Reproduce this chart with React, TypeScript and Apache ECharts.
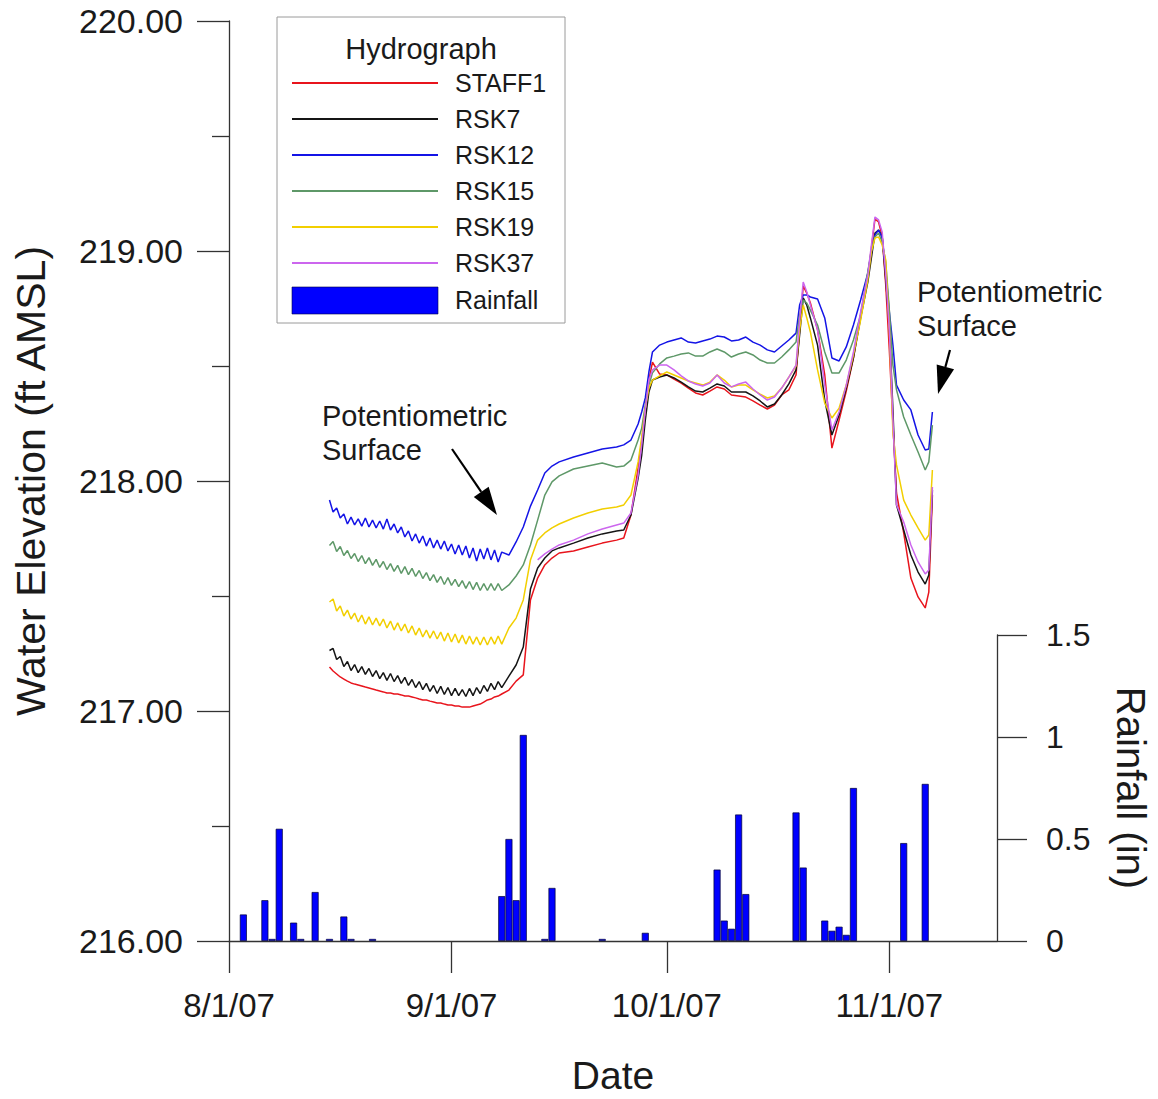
import React, { useEffect, useRef } from "react";
import * as echarts from "echarts";

// sample times, in days since 2007-08-01 (half-day samples while the daily cycle is visible)
const sampleDay = [
  14, 14.5, 15, 15.5, 16, 16.5, 17, 17.5, 18, 18.5, 19, 19.5, 20, 20.5, 21, 21.5, 22, 22.5, 23, 23.5,
  24, 24.5, 25, 25.5, 26, 26.5, 27, 27.5, 28, 28.5, 29, 29.5, 30, 30.5, 31, 31.5, 32, 32.5, 33, 33.5,
  34, 34.5, 35, 35.5, 36, 36.5, 37, 37.5, 38,
  39, 40, 41, 42, 43, 44, 45, 46, 48, 50, 52, 54, 55, 56, 57, 57.5, 58, 58.5, 59,
  60, 61, 62, 63, 64, 65, 66, 67, 68, 69, 70, 71, 72, 73, 74, 75, 76, 77, 78, 79,
  79.5, 80, 80.5, 81, 82, 83, 84, 85, 86, 87, 88, 89, 89.5, 90, 90.5, 91, 91.5, 92, 92.5, 93,
  94, 95, 96, 97, 97.5, 98,
];

const staff1 = [
  217.191, 217.174, 217.161, 217.148, 217.139, 217.130, 217.122, 217.117, 217.113, 217.109,
  217.104, 217.100, 217.096, 217.091, 217.087, 217.083, 217.078, 217.078, 217.074, 217.074,
  217.070, 217.065, 217.065, 217.061, 217.057, 217.052, 217.048, 217.048, 217.043, 217.039,
  217.035, 217.035, 217.030, 217.026, 217.026, 217.022, 217.022, 217.017, 217.017, 217.017,
  217.022, 217.026, 217.030, 217.039, 217.048, 217.052, 217.061, 217.065, 217.074,
  217.091, 217.130, 217.157, 217.483, 217.578, 217.635, 217.665, 217.687, 217.696, 217.713,
  217.730, 217.743, 217.752, 217.852, 218.057, 218.170, 218.309, 218.439, 218.517,
  218.465, 218.461, 218.443, 218.426, 218.404, 218.383, 218.374, 218.391, 218.409, 218.400,
  218.374, 218.370, 218.365, 218.348, 218.330, 218.313, 218.330, 218.374, 218.396, 218.461,
  218.657, 218.848, 218.817, 218.774, 218.657, 218.461, 218.143, 218.265, 218.391, 218.535,
  218.722, 218.887, 219.013, 219.139, 219.126, 219.065, 218.852, 218.570, 218.248, 217.948,
  217.774, 217.578, 217.496, 217.448, 217.517, 217.939,
];

const rsk7 = [
  217.263, 217.272, 217.224, 217.237, 217.193, 217.215, 217.176, 217.202, 217.167, 217.193,
  217.159, 217.185, 217.150, 217.176, 217.141, 217.167, 217.133, 217.163, 217.128, 217.154,
  217.120, 217.146, 217.111, 217.137, 217.102, 217.128, 217.093, 217.120, 217.085, 217.111,
  217.076, 217.107, 217.072, 217.102, 217.067, 217.098, 217.067, 217.093, 217.063, 217.098,
  217.067, 217.102, 217.076, 217.111, 217.085, 217.120, 217.093, 217.128, 217.102,
  217.152, 217.200, 217.278, 217.530, 217.622, 217.665, 217.696, 217.709, 217.730, 217.752,
  217.770, 217.783, 217.787, 217.852, 218.013, 218.113, 218.265, 218.387, 218.439,
  218.452, 218.461, 218.448, 218.430, 218.409, 218.391, 218.387, 218.404, 218.422, 218.413,
  218.387, 218.387, 218.387, 218.370, 218.348, 218.322, 218.335, 218.374, 218.422, 218.483,
  218.635, 218.796, 218.765, 218.709, 218.591, 218.352, 218.200, 218.287, 218.404, 218.535,
  218.709, 218.865, 218.970, 219.078, 219.091, 219.065, 218.874, 218.678, 218.309, 217.896,
  217.787, 217.678, 217.604, 217.552, 217.591, 217.961,
];

const rsk12 = [
  217.917, 217.865, 217.883, 217.839, 217.857, 217.813, 217.843, 217.809, 217.835, 217.804,
  217.839, 217.800, 217.830, 217.796, 217.826, 217.791, 217.835, 217.787, 217.813, 217.774,
  217.800, 217.757, 217.783, 217.739, 217.770, 217.730, 217.761, 217.717, 217.752, 217.709,
  217.743, 217.704, 217.739, 217.696, 217.726, 217.683, 217.722, 217.678, 217.717, 217.665,
  217.709, 217.652, 217.704, 217.661, 217.709, 217.657, 217.700, 217.648, 217.691,
  217.678, 217.735, 217.800, 217.891, 217.961, 218.035, 218.065, 218.083, 218.104, 218.122,
  218.139, 218.148, 218.157, 218.178, 218.248, 218.300, 218.361, 218.474, 218.561,
  218.591, 218.604, 218.613, 218.622, 218.604, 218.600, 218.609, 218.617, 218.630, 218.626,
  218.609, 218.613, 218.626, 218.604, 218.591, 218.570, 218.561, 218.587, 218.613, 218.643,
  218.765, 218.809, 218.809, 218.800, 218.791, 218.709, 218.535, 218.522, 218.583, 218.678,
  218.787, 218.904, 218.996, 219.070, 219.091, 219.057, 218.917, 218.735, 218.591, 218.417,
  218.352, 218.309, 218.200, 218.135, 218.139, 218.300,
];

const rsk15 = [
  217.720, 217.737, 217.693, 217.715, 217.676, 217.698, 217.663, 217.685, 217.650, 217.676,
  217.641, 217.667, 217.633, 217.659, 217.624, 217.650, 217.615, 217.641, 217.607, 217.633,
  217.598, 217.628, 217.593, 217.620, 217.585, 217.611, 217.576, 217.602, 217.567, 217.593,
  217.559, 217.585, 217.550, 217.580, 217.546, 217.572, 217.541, 217.567, 217.533, 217.563,
  217.528, 217.559, 217.524, 217.554, 217.524, 217.554, 217.524, 217.554, 217.524,
  217.548, 217.587, 217.635, 217.722, 217.830, 217.939, 217.996, 218.022, 218.052, 218.065,
  218.078, 218.061, 218.065, 218.091, 218.178, 218.230, 218.330, 218.417, 218.470,
  218.509, 218.535, 218.543, 218.552, 218.557, 218.543, 218.543, 218.561, 218.574, 218.561,
  218.539, 218.552, 218.561, 218.548, 218.526, 218.513, 218.513, 218.539, 218.570, 218.604,
  218.722, 218.787, 218.774, 218.743, 218.678, 218.561, 218.470, 218.470, 218.526, 218.613,
  218.722, 218.909, 219.004, 219.061, 219.078, 219.039, 218.952, 218.743, 218.504, 218.396,
  218.278, 218.200, 218.126, 218.048, 218.083, 218.243,
];

const rsk19 = [
  217.474, 217.487, 217.435, 217.457, 217.413, 217.439, 217.400, 217.426, 217.387, 217.417,
  217.378, 217.409, 217.374, 217.404, 217.370, 217.400, 217.361, 217.391, 217.352, 217.383,
  217.348, 217.378, 217.339, 217.370, 217.330, 217.361, 217.322, 217.352, 217.317, 217.348,
  217.313, 217.343, 217.304, 217.339, 217.300, 217.335, 217.296, 217.330, 217.291, 217.326,
  217.291, 217.322, 217.287, 217.322, 217.287, 217.322, 217.291, 217.326, 217.291,
  217.361, 217.404, 217.483, 217.657, 217.743, 217.774, 217.796, 217.813, 217.839, 217.861,
  217.878, 217.887, 217.896, 217.939, 218.083, 218.191, 218.317, 218.404, 218.439,
  218.457, 218.474, 218.461, 218.448, 218.435, 218.426, 218.417, 218.430, 218.461, 218.439,
  218.409, 218.417, 218.417, 218.396, 218.378, 218.361, 218.370, 218.404, 218.452, 218.500,
  218.657, 218.765, 218.709, 218.648, 218.483, 218.339, 218.274, 218.317, 218.417, 218.548,
  218.700, 218.874, 218.996, 219.057, 219.061, 219.026, 218.961, 218.657, 218.209, 218.070,
  217.917, 217.852, 217.796, 217.743, 217.765, 218.048,
];

const N = null;
const rsk37 = [
  N, N, N, N, N, N, N, N, N, N, N, N, N, N, N, N, N, N, N, N,
  N, N, N, N, N, N, N, N, N, N, N, N, N, N, N, N, N, N, N, N,
  N, N, N, N, N, N, N, N, N,
  N, N, N, N, 217.657, 217.683, 217.704, 217.722, 217.743, 217.770,
  217.791, 217.809, 217.817, 217.861, 218.026, 218.157, 218.309, 218.439, 218.483,
  218.504, 218.504, 218.483, 218.457, 218.435, 218.422, 218.413, 218.426, 218.461, 218.426,
  218.409, 218.422, 218.430, 218.400, 218.374, 218.352, 218.365, 218.404, 218.452, 218.504,
  218.700, 218.865, 218.822, 218.765, 218.657, 218.417, 218.222, 218.300, 218.417, 218.561,
  218.735, 218.896, 219.026, 219.148, 219.135, 219.083, 218.896, 218.657, 218.265, 217.896,
  217.822, 217.722, 217.648, 217.596, 217.613, 217.974,
];

const rainDate = [
  "2007-08-03", "2007-08-06", "2007-08-07", "2007-08-08", "2007-08-10", "2007-08-11",
  "2007-08-13", "2007-08-15", "2007-08-17", "2007-08-18", "2007-08-21",
  "2007-09-08", "2007-09-09", "2007-09-10", "2007-09-11", "2007-09-14", "2007-09-15",
  "2007-09-22", "2007-09-28",
  "2007-10-08", "2007-10-09", "2007-10-10", "2007-10-11", "2007-10-12",
  "2007-10-19", "2007-10-20", "2007-10-23", "2007-10-24", "2007-10-25", "2007-10-26",
  "2007-10-27", "2007-11-03", "2007-11-06",
];
const rainIn = [
  0.13, 0.2, 0.01, 0.55, 0.09, 0.01,
  0.24, 0.01, 0.12, 0.01, 0.01,
  0.22, 0.5, 0.2, 1.01, 0.01, 0.26,
  0.01, 0.04,
  0.35, 0.1, 0.06, 0.62, 0.23,
  0.63, 0.36, 0.1, 0.05, 0.07, 0.03,
  0.75, 0.48, 0.77,
];

const dateTickLabels = ["2007-08-01", "2007-09-01", "2007-10-01", "2007-11-01"];
const axisStart = "2007-08-01";
const axisEnd = "2007-11-16";

const seriesDefs = [
  { name: "STAFF1", values: staff1, color: "#e8141c" },
  { name: "RSK7", values: rsk7, color: "#151515" },
  { name: "RSK12", values: rsk12, color: "#1414e6" },
  { name: "RSK15", values: rsk15, color: "#5e9868" },
  { name: "RSK19", values: rsk19, color: "#f2cf00" },
  { name: "RSK37", values: rsk37, color: "#cc66ee" },
];

const FONT = '"Liberation Sans", Arial, Helvetica, sans-serif';
const TEXT = "#1a1a1a";
const AXIS = "#333333";
const DAY = 86400000;

const parseDate = (s: string) => {
  const [y, m, d] = s.split("-").map(Number);
  return Date.UTC(y, m - 1, d);
};
const T0 = parseDate(axisStart);

export default function App() {
  const ref = useRef<HTMLDivElement>(null);

  useEffect(() => {
    if (!ref.current) return;
    const chart = echarts.init(ref.current, null, { renderer: "svg" });
    const tickTs = dateTickLabels.map(parseDate);
    const fmtDate = (v: number) => {
      const d = new Date(v);
      return `${d.getUTCMonth() + 1}/${d.getUTCDate()}/07`;
    };
    const axisLine = { show: true, lineStyle: { color: AXIS, width: 1.3 } };

    const lineSeries = seriesDefs.map((s) => ({
      name: s.name,
      type: "line",
      xAxisIndex: 0,
      yAxisIndex: 0,
      symbol: "none",
      connectNulls: false,
      lineStyle: { color: s.color, width: 1.5 },
      itemStyle: { color: s.color },
      data: sampleDay.map((d, i) => [T0 + d * DAY, s.values[i]]),
    }));

    // legend drawn as graphic
    const legendX = 277, legendY = 17;
    const legendItems: any[] = [
      {
        type: "rect",
        shape: { x: legendX, y: legendY, width: 288, height: 306 },
        style: { fill: "#fff", stroke: "#9a9a9a", lineWidth: 1 },
        z: 10,
      },
      {
        type: "text",
        x: 421, y: 49,
        style: { text: "Hydrograph", fill: TEXT, font: `29px ${FONT}`, align: "center", verticalAlign: "middle" },
        z: 11,
      },
    ];
    seriesDefs.forEach((s, i) => {
      const y = 83 + i * 36;
      legendItems.push({
        type: "line",
        shape: { x1: 292, y1: y, x2: 438, y2: y },
        style: { stroke: s.color, lineWidth: 1.8 },
        z: 11,
      });
      legendItems.push({
        type: "text",
        x: 455, y,
        style: { text: s.name, fill: TEXT, font: `25px ${FONT}`, align: "left", verticalAlign: "middle" },
        z: 11,
      });
    });
    legendItems.push({
      type: "rect",
      shape: { x: 292, y: 287, width: 146, height: 27 },
      style: { fill: "#0000ff", stroke: "#000044", lineWidth: 0.6 },
      z: 11,
    });
    legendItems.push({
      type: "text",
      x: 455, y: 300,
      style: { text: "Rainfall", fill: TEXT, font: `25px ${FONT}`, align: "left", verticalAlign: "middle" },
      z: 11,
    });

    const annotation = (x: number, y: number) => ({
      type: "text",
      x, y,
      style: {
        text: "Potentiometric\nSurface",
        fill: TEXT,
        font: `29px ${FONT}`,
        lineHeight: 34,
        align: "left",
        verticalAlign: "top",
      },
      z: 11,
    });
    const arrow = (x1: number, y1: number, x2: number, y2: number) => {
      const dx = x2 - x1, dy = y2 - y1;
      const len = Math.sqrt(dx * dx + dy * dy);
      const ux = dx / len, uy = dy / len;
      const hl = 28, hw = 9;
      const bx = x2 - ux * hl, by = y2 - uy * hl;
      return [
        { type: "line", shape: { x1, y1, x2: bx, y2: by }, style: { stroke: "#000", lineWidth: 2.2 }, z: 11 },
        {
          type: "polygon",
          shape: { points: [[x2, y2], [bx - uy * hw, by + ux * hw], [bx + uy * hw, by - ux * hw]] },
          style: { fill: "#000" },
          z: 11,
        },
      ];
    };

    const option: any = {
      animation: false,
      backgroundColor: "#ffffff",
      textStyle: { fontFamily: FONT },
      grid: [
        { left: 229, right: 161, top: 21, height: 920, outerBoundsMode: "none", containLabel: false },
        { left: 229, right: 161, top: 635, height: 306, outerBoundsMode: "none", containLabel: false },
      ],
      xAxis: [
        {
          type: "value",
          gridIndex: 0,
          min: parseDate(axisStart),
          max: parseDate(axisEnd),
          axisLine,
          axisTick: { show: true, length: 32, customValues: tickTs, lineStyle: { color: AXIS, width: 1.3 } },
          axisLabel: {
            customValues: tickTs,
            formatter: fmtDate,
            fontSize: 33,
            fontFamily: FONT,
            color: TEXT,
            margin: 48,
          },
          splitLine: { show: false },
          name: "Date",
          nameLocation: "middle",
          nameGap: 115,
          nameTextStyle: { fontSize: 39, fontFamily: FONT, color: TEXT },
        },
        {
          type: "value",
          gridIndex: 1,
          min: parseDate(axisStart),
          max: parseDate(axisEnd),
          show: false,
        },
      ],
      yAxis: [
        {
          type: "value",
          gridIndex: 0,
          position: "left",
          min: 216,
          max: 220,
          interval: 1,
          axisLine,
          axisTick: { show: true, length: 32, lineStyle: { color: AXIS, width: 1.3 } },
          minorTick: { show: true, splitNumber: 2, length: 17, lineStyle: { color: AXIS, width: 1.3 } },
          axisLabel: {
            formatter: (v: number) => v.toFixed(2),
            fontSize: 34,
            fontFamily: FONT,
            color: TEXT,
            margin: 46,
          },
          splitLine: { show: false },
          minorSplitLine: { show: false },
          name: "Water Elevation (ft AMSL)",
          nameLocation: "middle",
          nameGap: 178,
          nameTextStyle: { fontSize: 41, fontFamily: FONT, color: TEXT },
        },
        {
          type: "value",
          gridIndex: 1,
          position: "right",
          min: 0,
          max: 1.5,
          interval: 0.5,
          axisLine,
          axisTick: { show: true, length: 30, lineStyle: { color: AXIS, width: 1.3 } },
          axisLabel: {
            formatter: (v: number) => String(v),
            fontSize: 32,
            fontFamily: FONT,
            color: TEXT,
            margin: 49,
          },
          splitLine: { show: false },
          name: "Rainfall (in)",
          nameLocation: "middle",
          nameRotate: -90,
          nameGap: 114,
          nameTextStyle: { fontSize: 40, fontFamily: FONT, color: TEXT },
        },
      ],
      series: [
        {
          name: "Rainfall",
          type: "bar",
          xAxisIndex: 1,
          yAxisIndex: 1,
          barWidth: 7,
          itemStyle: { color: "#0000ff", borderColor: "#000033", borderWidth: 0.7 },
          data: rainDate.map((d, i) => [parseDate(d), rainIn[i]]),
        },
        ...lineSeries,
      ],
      graphic: [
        ...legendItems,
        annotation(322, 399),
        ...arrow(452, 449, 497, 515),
        annotation(917, 275),
        ...arrow(950, 350, 938, 394),
      ],
    };

    chart.setOption(option);
    return () => chart.dispose();
  }, []);

  return (
    <div
      ref={ref}
      style={{ position: "absolute", left: 0, top: 0, width: 1158, height: 1099, background: "#fff" }}
    />
  );
}
